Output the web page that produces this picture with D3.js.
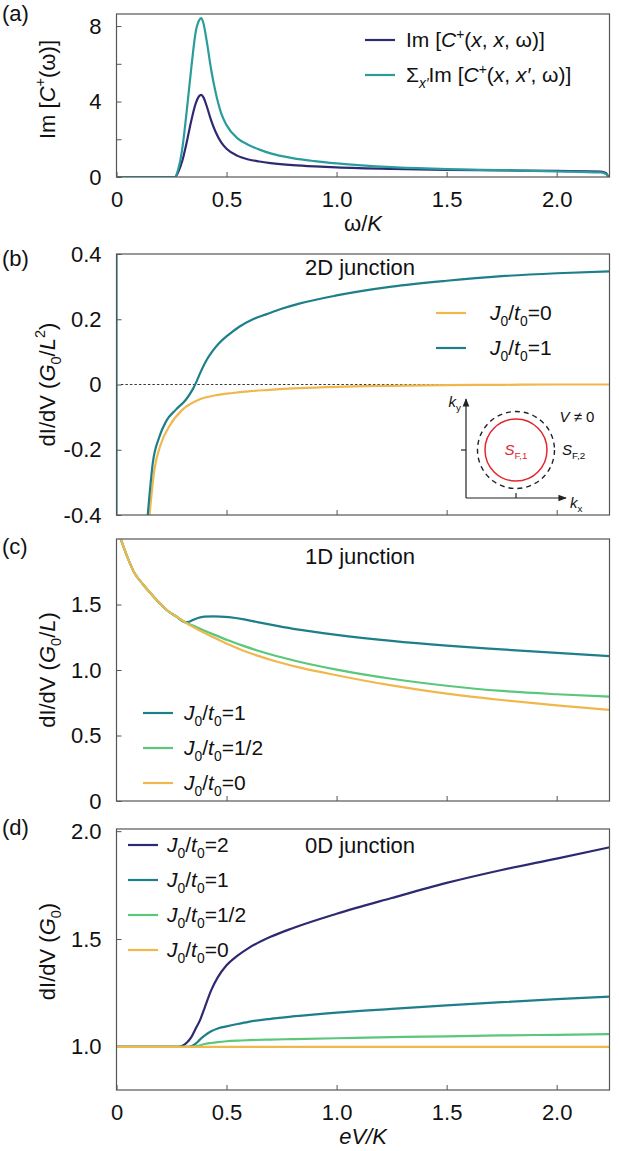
<!DOCTYPE html>
<html>
<head>
<meta charset="utf-8">
<script src="https://cdn.jsdelivr.net/npm/d3@7"></script>
<style>
body { margin: 0; background: #fff; }
svg text { font-family: "Liberation Sans", Arial, sans-serif; fill: #111; }
</style>
</head>
<body>
<script>
// ---- values ----
var xTicks = [0, 0.5, 1.0, 1.5, 2.0];
var xTickLabels = ["0", "0.5", "1.0", "1.5", "2.0"];
var xInnerTicks = [0.5, 1.0, 1.5, 2.0];

// (a) spectral function
var aW     = [0, 0.265, 0.28, 0.30, 0.32, 0.34, 0.36, 0.375, 0.385, 0.395, 0.41, 0.43, 0.45, 0.475, 0.5, 0.55, 0.6, 0.65, 0.7, 0.8, 0.9, 1.0, 1.25, 1.5, 1.75, 2.0, 2.2, 2.225, 2.235];
var aLocal = [0, 0, 0.25, 0.9, 1.9, 3.0, 3.9, 4.28, 4.35, 4.22, 3.75, 3.0, 2.4, 1.85, 1.5, 1.12, 0.93, 0.82, 0.74, 0.63, 0.56, 0.51, 0.43, 0.38, 0.35, 0.32, 0.29, 0.2, 0];
var aSum   = [0, 0, 0.4, 1.6, 3.6, 5.8, 7.7, 8.3, 8.42, 8.15, 7.2, 5.7, 4.5, 3.4, 2.75, 2.05, 1.7, 1.45, 1.25, 1.0, 0.84, 0.72, 0.52, 0.42, 0.36, 0.3, 0.24, 0.15, 0];
var aYTicks = [0, 2, 4, 6, 8];
var aYLabels = ["0", "", "4", "", "8"];

// (b) 2D junction
var bW0 = [0.15, 0.172, 0.203, 0.24, 0.30, 0.376, 0.45, 0.527, 0.6, 0.68, 0.83, 1.0, 1.25, 1.5, 1.75, 2.0, 2.24];
var bJ0 = [-0.4, -0.262, -0.18, -0.128, -0.077, -0.046, -0.033, -0.026, -0.021, -0.017, -0.011, -0.007, -0.004, -0.002, -0.001, 0, 0];
var bW1 = [0.142, 0.165, 0.195, 0.225, 0.27, 0.316, 0.346, 0.361, 0.38, 0.407, 0.437, 0.467, 0.51, 0.558, 0.62, 0.68, 0.75, 0.83, 1.0, 1.25, 1.5, 1.75, 2.0, 2.24];
var bJ1 = [-0.4, -0.24, -0.16, -0.113, -0.077, -0.046, -0.015, 0.005, 0.035, 0.072, 0.103, 0.127, 0.153, 0.177, 0.2, 0.215, 0.232, 0.248, 0.273, 0.3, 0.318, 0.332, 0.341, 0.347];
var bSpikeW = [0, 0];
var bSpikeV = [-0.4, 0.4];
var bYTicks = [-0.4, -0.2, 0, 0.2, 0.4];
var bYLabels = ["-0.4", "-0.2", "0", "0.2", "0.4"];

// (c) 1D junction
var cW    = [0.015, 0.05, 0.081, 0.12, 0.153, 0.19, 0.225, 0.27, 0.315, 0.33, 0.35, 0.37, 0.40, 0.44, 0.51, 0.58, 0.64, 0.73, 0.82, 1.0, 1.25, 1.5, 1.75, 2.0, 2.24];
var cJ0   = [2.02, 1.86, 1.742, 1.655, 1.589, 1.52, 1.462, 1.41, 1.36, 1.345, 1.327, 1.309, 1.283, 1.25, 1.194, 1.145, 1.11, 1.063, 1.024, 0.96, 0.882, 0.819, 0.771, 0.73, 0.695];
var cJhalf= [2.02, 1.86, 1.742, 1.655, 1.589, 1.52, 1.462, 1.41, 1.363, 1.351, 1.337, 1.322, 1.3, 1.272, 1.225, 1.182, 1.149, 1.105, 1.067, 1.003, 0.933, 0.88, 0.84, 0.815, 0.797];
var cJ1   = [2.02, 1.86, 1.742, 1.655, 1.589, 1.52, 1.462, 1.41, 1.365, 1.368, 1.384, 1.397, 1.407, 1.41, 1.403, 1.386, 1.366, 1.337, 1.31, 1.268, 1.222, 1.186, 1.157, 1.13, 1.106];
var cYTicks = [0, 0.5, 1.0, 1.5];
var cYLabels = ["0", "0.5", "1.0", "1.5"];

// (d) 0D junction
var dW    = [0, 0.28, 0.30, 0.32, 0.34, 0.36, 0.38, 0.40, 0.43, 0.46, 0.50, 0.55, 0.6, 0.7, 0.8, 1.0, 1.25, 1.5, 1.75, 2.0, 2.24];
var dJ2   = [1.0, 1.0, 1.005, 1.02, 1.045, 1.085, 1.125, 1.18, 1.262, 1.322, 1.378, 1.423, 1.458, 1.51, 1.55, 1.617, 1.69, 1.76, 1.82, 1.873, 1.925];
var dJ1   = [1.0, 1.0, 1.0, 1.0, 1.003, 1.015, 1.035, 1.052, 1.072, 1.085, 1.095, 1.106, 1.116, 1.13, 1.141, 1.159, 1.176, 1.192, 1.207, 1.221, 1.233];
var dJhalf= [1.0, 1.0, 1.0, 1.0, 1.0, 1.002, 1.007, 1.013, 1.018, 1.022, 1.026, 1.029, 1.031, 1.034, 1.036, 1.04, 1.045, 1.049, 1.053, 1.056, 1.059];
var dJ0   = [1.0, 1.0, 1.0, 1.0, 1.0, 1.0, 1.0, 1.0, 1.0, 1.0, 1.0, 1.0, 1.0, 1.0, 1.0, 1.0, 1.0, 1.0, 1.0, 1.0, 1.0];
var dYTicks = [1.0, 1.5, 2.0];
var dYLabels = ["1.0", "1.5", "2.0"];

// ---- styling ----
var NAVY = "#2e2a72", TEAL_A = "#2a9c9c", TEAL = "#1d7f89", GREEN = "#5ac77a", ORANGE = "#f0b84c", RED = "#e3262b";
var FS = 22;   // ticks, titles
var LFS = 21;  // legends
var X0 = 116.5, X1 = 609.5;

var svg = d3.select("body").append("svg").attr("width", 619).attr("height", 1151);
var defs = svg.append("defs");
defs.append("marker").attr("id", "arr").attr("viewBox", "0 0 10 10")
  .attr("refX", 9).attr("refY", 5).attr("markerWidth", 7).attr("markerHeight", 7)
  .attr("orient", "auto")
  .append("path").attr("d", "M0,1 L10,5 L0,9 Z").attr("fill", "#222");

var x = d3.scaleLinear().domain([0, 2.24]).range([X0, X1]);

// text with italic / sub / sup pieces
function rich(sel, parts, fs) {
  var shift = 0;
  parts.forEach(function(p) {
    var kind = p[1] || "";
    var t = sel.append("tspan").text(p[0]);
    var want = 0;
    if (kind.indexOf("sub") >= 0) want = 0.28;
    if (kind.indexOf("sup") >= 0) want = -0.42;
    if (kind === "i" || kind === "isub") t.attr("font-style", "italic");
    if (want !== 0) t.attr("font-size", (fs * 0.66) + "px");
    if (want !== shift) t.attr("dy", ((want - shift) * fs) + "px");
    shift = want;
  });
  return sel;
}

function J(v) { return [["J", "i"], ["0", "sub"], ["/"], ["t", "i"], ["0", "sub"], ["=" + v]]; }

function panel(p) {
  var g = svg.append("g");
  var y = d3.scaleLinear().domain(p.ydom).range([p.bottom, p.top]);
  var cid = "clip" + p.id;
  defs.append("clipPath").attr("id", cid).append("rect")
    .attr("x", X0).attr("y", p.top).attr("width", X1 - X0).attr("height", p.bottom - p.top);

  var ya = g.append("g").attr("transform", "translate(" + X0 + ",0)")
    .call(d3.axisLeft(y).tickValues(p.yTicks).tickFormat(function(d, i) { return p.yLabels[i]; })
      .tickSizeInner(-5).tickSizeOuter(0).tickPadding(15));
  var xa = g.append("g").attr("transform", "translate(0," + p.bottom + ")")
    .call(d3.axisBottom(x).tickValues(p.xLabels ? xTicks : xInnerTicks)
      .tickFormat(function(d, i) { return p.xLabels ? xTickLabels[i] : ""; })
      .tickSizeInner(-5).tickSizeOuter(0).tickPadding(14));
  [ya, xa].forEach(function(a) {
    a.select(".domain").remove();
    a.selectAll("line").attr("stroke", "#555");
    a.selectAll("text").attr("font-size", FS + "px").attr("fill", "#111")
      .attr("font-family", '"Liberation Sans", Arial, sans-serif');
  });

  var plot = g.append("g").attr("clip-path", "url(#" + cid + ")");
  if (p.zeroLine) {
    plot.append("line").attr("x1", x(0.02)).attr("x2", X1).attr("y1", y(0)).attr("y2", y(0))
      .attr("stroke", "#222").attr("stroke-width", 0.9).attr("stroke-dasharray", "2.5,2");
  }
  var line = d3.line().curve(d3.curveMonotoneX);
  p.series.forEach(function(s) {
    var pts = s.w.map(function(w, i) { return [x(w), y(s.v[i])]; });
    plot.append("path").attr("d", s.straight ? d3.line()(pts) : line(pts))
      .attr("fill", "none").attr("stroke", s.color).attr("stroke-width", 2.2);
  });

  g.append("rect").attr("x", X0).attr("y", p.top).attr("width", X1 - X0).attr("height", p.bottom - p.top)
    .attr("fill", "none").attr("stroke", "#555").attr("stroke-width", 1.2);

  // panel letter
  g.append("text").attr("x", 2).attr("y", p.top + p.letterDy).attr("font-size", FS + "px").text(p.letter);

  // y title
  var cy = (p.top + p.bottom) / 2 + (p.titleDy || 0);
  rich(g.append("text").attr("transform", "translate(47," + cy + ") rotate(-90)")
    .attr("text-anchor", "middle").attr("dy", "0.35em").attr("font-size", FS + "px"), p.yTitle, FS);

  if (p.title) {
    g.append("text").attr("x", 360).attr("y", p.titleY).attr("text-anchor", "middle")
      .attr("dy", "0.35em").attr("font-size", FS + "px").text(p.title);
  }
  if (p.xTitle) {
    rich(g.append("text").attr("x", (X0 + X1) / 2).attr("y", p.bottom + 46).attr("text-anchor", "middle")
      .attr("dy", "0.35em").attr("font-size", FS + "px"), p.xTitle, FS);
  }
  // legend
  var L = p.legend;
  L.items.forEach(function(it, i) {
    var yy = L.y + i * L.dy;
    g.append("line").attr("x1", L.x).attr("x2", L.x + 30).attr("y1", yy).attr("y2", yy)
      .attr("stroke", it.color).attr("stroke-width", 2.2);
    rich(g.append("text").attr("x", L.tx).attr("y", yy).attr("dy", "0.35em")
      .attr("font-size", LFS + "px"), it.label, LFS);
  });
  return { g: g, y: y };
}

// (a)
panel({
  id: "a", letter: "(a)", letterDy: 7, top: 14, bottom: 177, ydom: [0, 8.64],
  yTicks: aYTicks, yLabels: aYLabels, xLabels: true, titleDy: -6,
  yTitle: [["Im ["], ["C", "i"], ["+", "sup"], ["(ω)]"]],
  xTitle: [["ω/"], ["K", "i"]],
  series: [
    { w: aW, v: aLocal, color: NAVY },
    { w: aW, v: aSum, color: TEAL_A }
  ],
  legend: { x: 365, tx: 406, y: 40, dy: 35, items: [
    { color: NAVY, label: [["Im ["], ["C", "i"], ["+", "sup"], ["("], ["x", "i"], [", "], ["x", "i"], [", ω)]"]] },
    { color: TEAL_A, label: [["Σ"], ["x′", "isub"], ["Im ["], ["C", "i"], ["+", "sup"], ["("], ["x", "i"], [", "], ["x′", "i"], [", ω)]"]] }
  ] }
});

// (b)
var pb = panel({
  id: "b", letter: "(b)", letterDy: 12, top: 254, bottom: 515, ydom: [-0.4, 0.4],
  yTicks: bYTicks, yLabels: bYLabels, xLabels: false, zeroLine: true,
  yTitle: [["dI/dV ("], ["G", "i"], ["0", "sub"], ["/"], ["L", "i"], ["2", "sup"], [")"]],
  title: "2D junction", titleY: 267,
  series: [
    { w: bW0, v: bJ0, color: ORANGE },
    { w: bW1, v: bJ1, color: TEAL },
    { w: bSpikeW, v: bSpikeV, color: TEAL, straight: true }
  ],
  legend: { x: 436, tx: 490, y: 313, dy: 35, items: [
    { color: ORANGE, label: J("0") },
    { color: TEAL, label: J("1") }
  ] }
});

// inset sketch of the two Fermi surfaces
(function() {
  var g = pb.g.append("g");
  var ox = 466, oy = 498, cx = 516, cy = 450;
  g.append("line").attr("x1", ox).attr("y1", oy).attr("x2", ox).attr("y2", 399)
    .attr("stroke", "#222").attr("stroke-width", 1.2).attr("marker-end", "url(#arr)");
  g.append("line").attr("x1", ox).attr("y1", oy).attr("x2", 566).attr("y2", oy)
    .attr("stroke", "#222").attr("stroke-width", 1.2).attr("marker-end", "url(#arr)");
  g.append("line").attr("x1", ox - 5).attr("x2", ox).attr("y1", cy).attr("y2", cy).attr("stroke", "#222").attr("stroke-width", 1.2);
  g.append("line").attr("x1", cx).attr("x2", cx).attr("y1", oy - 5).attr("y2", oy).attr("stroke", "#222").attr("stroke-width", 1.2);
  g.append("circle").attr("cx", cx).attr("cy", cy).attr("r", 38.5).attr("fill", "none")
    .attr("stroke", "#222").attr("stroke-width", 1.4).attr("stroke-dasharray", "5,4");
  g.append("circle").attr("cx", cx).attr("cy", cy).attr("r", 31).attr("fill", "none")
    .attr("stroke", RED).attr("stroke-width", 1.5);
  var fs = 15;
  rich(g.append("text").attr("x", 461).attr("y", 402).attr("text-anchor", "end").attr("dy", "0.35em")
    .attr("font-size", fs + "px"), [["k", "i"], ["y", "sub"]], fs);
  rich(g.append("text").attr("x", 570).attr("y", 503).attr("dy", "0.35em")
    .attr("font-size", fs + "px"), [["k", "i"], ["x", "sub"]], fs);
  rich(g.append("text").attr("x", cx).attr("y", cy).attr("text-anchor", "middle").attr("dy", "0.35em")
    .attr("font-size", fs + "px").style("fill", RED), [["S", "i"], ["F,1", "sub"]], fs);
  rich(g.append("text").attr("x", 562).attr("y", cy).attr("dy", "0.35em")
    .attr("font-size", fs + "px"), [["S", "i"], ["F,2", "sub"]], fs);
  rich(g.append("text").attr("x", 577).attr("y", 417).attr("text-anchor", "middle").attr("dy", "0.35em")
    .attr("font-size", fs + "px"), [["V", "i"], [" ≠ 0"]], fs);
})();

// (c)
panel({
  id: "c", letter: "(c)", letterDy: 15, top: 539, bottom: 801, ydom: [0, 2.0],
  yTicks: cYTicks, yLabels: cYLabels, xLabels: false,
  yTitle: [["dI/dV ("], ["G", "i"], ["0", "sub"], ["/"], ["L", "i"], [")"]],
  title: "1D junction", titleY: 556,
  series: [
    { w: cW, v: cJ1, color: TEAL },
    { w: cW, v: cJhalf, color: GREEN },
    { w: cW, v: cJ0, color: ORANGE }
  ],
  legend: { x: 143, tx: 184, y: 713, dy: 35, items: [
    { color: TEAL, label: J("1") },
    { color: GREEN, label: J("1/2") },
    { color: ORANGE, label: J("0") }
  ] }
});

// (d)
panel({
  id: "d", letter: "(d)", letterDy: 6, top: 829, bottom: 1090, ydom: [0.8, 2.01],
  yTicks: dYTicks, yLabels: dYLabels, xLabels: true, titleDy: -8,
  yTitle: [["dI/dV ("], ["G", "i"], ["0", "sub"], [")"]],
  xTitle: [["eV/K", "i"]],
  title: "0D junction", titleY: 845,
  series: [
    { w: dW, v: dJ2, color: NAVY },
    { w: dW, v: dJ1, color: TEAL },
    { w: dW, v: dJhalf, color: GREEN },
    { w: dW, v: dJ0, color: ORANGE }
  ],
  legend: { x: 128, tx: 167, y: 845, dy: 35, items: [
    { color: NAVY, label: J("2") },
    { color: TEAL, label: J("1") },
    { color: GREEN, label: J("1/2") },
    { color: ORANGE, label: J("0") }
  ] }
});
</script>
</body>
</html>
